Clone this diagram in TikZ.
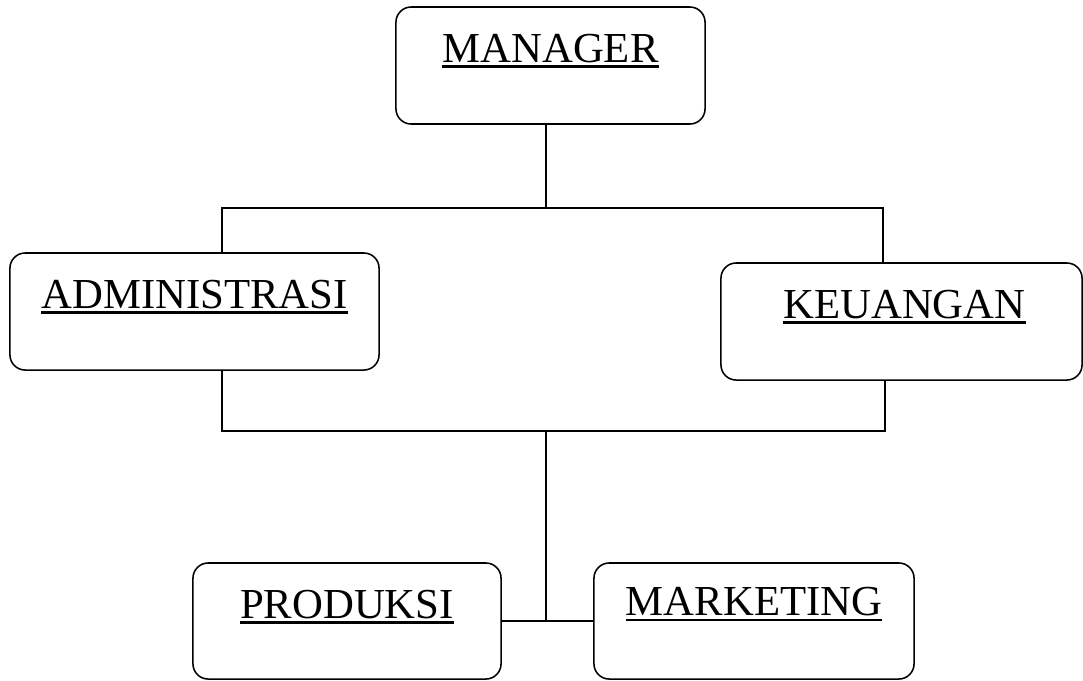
\documentclass[tikz,border=0pt]{standalone}
\usepackage{fontspec}
\setmainfont{Liberation Serif}
\usetikzlibrary{positioning}
% underlined name, rule a little under the baseline
\newcommand{\ulname}[1]{\setbox0\hbox{#1}\rlap{\vrule height -2.2pt depth 4.2pt width \wd0}\box0}

\begin{document}
\begin{tikzpicture}[x=0.025cm, y=-0.025cm,
		unitbox/.style={draw, line width=1.1pt, rounded corners=0.38cm, inner sep=0pt},
		unitname/.style={anchor=base, inner sep=0pt, font=\fontsize{30.4}{36}\selectfont},
		link/.style={line width=0.9pt}]
				\useasboundingbox (0,0) rectangle (1083,680);

				% Boxes
				\node[unitbox, minimum width=7.725cm, minimum height=2.925cm] (mgr) at (550.5,65.5) {};
				\node[unitbox, minimum width=9.225cm, minimum height=2.925cm] (adm) at (194.5,311.5) {};
				\node[unitbox, minimum width=9.025cm, minimum height=2.925cm] (keu) at (901.5,321.5) {};
				\node[unitbox, minimum width=7.7cm, minimum height=2.9cm] (prd) at (347,621) {};
				\node[unitbox, minimum width=8cm, minimum height=2.9cm] (mkt) at (754,621) {};

				% Names
				\node[unitname] (mgrname) at ([yshift=-1.4cm]mgr.north) {\ulname{MANAGER}};
				\node[unitname] (admname) at ([yshift=-1.4cm]adm.north) {\ulname{ADMINISTRASI}};
				\node[unitname] (keuname) at ([yshift=-1.4cm, xshift=0.075cm]keu.north) {\ulname{KEUANGAN}};
				\node[unitname] (prdname) at ([yshift=-1.4cm]prd.north) {\ulname{PRODUKSI}};
				\node[unitname] (mktname) at ([yshift=-1.33cm]mkt.north) {\ulname{MARKETING}};

				% Bars
				\coordinate (topL) at (222,208);
				\coordinate (topR) at (883,208);
				\coordinate (botL) at (222,431);
				\coordinate (botR) at (885,431);
				\coordinate (hub) at (546,431);

				% Manager down to the top bar
				\draw[link] (mgr.south -| hub) -- (hub |- topL);
				\draw[link] (topL |- adm.north) -- (topL) -- (topR) -- (topR |- keu.north);

				% Lower bar
				\draw[link] (adm.south -| botL) -- (botL) -- (botR) -- (keu.south -| botR);
				\draw[link] (hub) -- (hub |- prd.east);
				\draw[link] (prd.east) -- (mkt.west);
			\end{tikzpicture}
\end{document}
